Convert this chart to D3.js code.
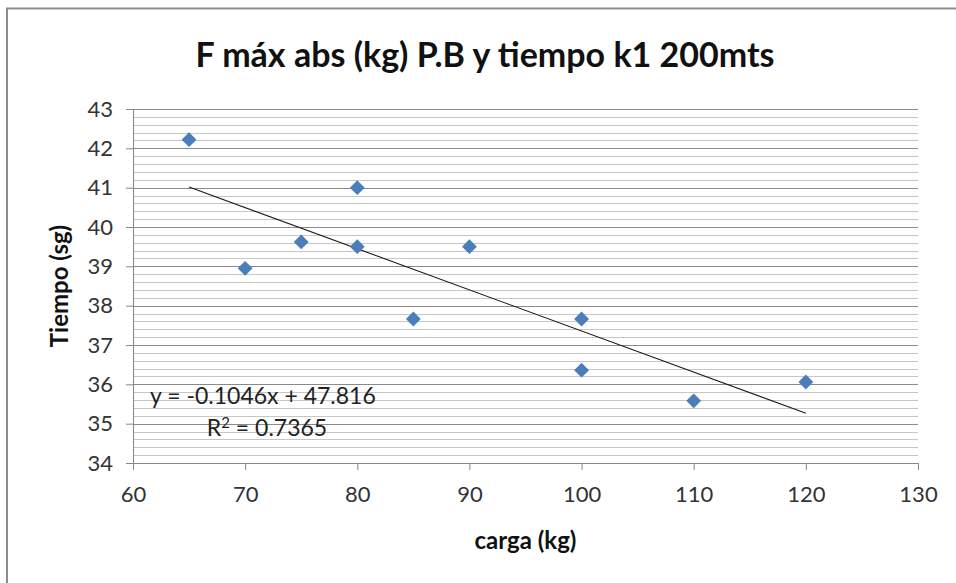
<!DOCTYPE html>
<html>
<head>
<meta charset="utf-8">
<script src="https://cdn.jsdelivr.net/npm/d3@7"></script>
<style>
  body { margin: 0; background: #fff; }
  svg text { font-family: Lato, "Open Sans", sans-serif; fill: #222; }
  .grid-minor line { stroke: #c6c6c6; stroke-width: 1; }
  .grid-major line { stroke: #8a8a8a; stroke-width: 1; }
  .axis path, .axis line { stroke: #868686; }
  .axis text { font-size: 22px; fill: #333; }
</style>
</head>
<body>
<div id="chart"></div>
<script>
'use strict';

// values
const carga = [65, 70, 75, 80, 80, 85, 90, 100, 100, 110, 120];
const tiempo = [42.22, 38.95, 39.62, 41.0, 39.5, 37.66, 39.5, 37.66, 36.36, 35.58, 36.06];
const xTicks = [60, 70, 80, 90, 100, 110, 120, 130];
const yTicks = [34, 35, 36, 37, 38, 39, 40, 41, 42, 43];
const trendSlope = -0.1046;
const trendIntercept = 47.816;
const rSquared = 0.7365;

const width = 956;
const height = 583;
const margin = {top: 109, right: 38, bottom: 120, left: 133};
const plotW = width - margin.left - margin.right;
const plotH = height - margin.top - margin.bottom;

const svg = d3.select('#chart').append('svg')
  .attr('width', width)
  .attr('height', height);

// outer chart frame (only top & left edges are inside the picture)
svg.append('rect')
  .attr('x', 7).attr('y', 8.5)
  .attr('width', width + 20).attr('height', height + 20)
  .attr('fill', 'none')
  .attr('stroke', '#8c8c8c')
  .attr('stroke-width', 2);

svg.append('text')
  .attr('x', 485)
  .attr('y', 67)
  .attr('text-anchor', 'middle')
  .style('font-size', '34px')
  .style('font-weight', 'bold')
  .style('fill', '#111')
  .text('F máx abs (kg) P.B y tiempo k1 200mts');

const g = svg.append('g')
  .attr('transform', 'translate(' + margin.left + ',' + margin.top + ')');

const x = d3.scaleLinear().domain([60, 130]).range([0, plotW]);
const y = d3.scaleLinear().domain([34, 43]).range([plotH, 0]);

// minor gridlines every 0.2
const minorTicks = d3.range(34, 43.001, 0.2).filter(v => Math.abs(v - Math.round(v)) > 0.01);
g.append('g')
  .attr('class', 'grid-minor')
  .selectAll('line')
  .data(minorTicks)
  .join('line')
  .attr('x1', 0).attr('x2', plotW)
  .attr('y1', d => Math.round(y(d)) + 0.5)
  .attr('y2', d => Math.round(y(d)) + 0.5);

g.append('g')
  .attr('class', 'grid-major')
  .selectAll('line')
  .data(yTicks.slice(1))
  .join('line')
  .attr('x1', 0).attr('x2', plotW)
  .attr('y1', d => Math.round(y(d)) + 0.5)
  .attr('y2', d => Math.round(y(d)) + 0.5);

const xAxis = d3.axisBottom(x).tickValues(xTicks).tickSize(7).tickPadding(16);
const yAxis = d3.axisLeft(y).tickValues(yTicks).tickSize(7).tickPadding(13);

g.append('g')
  .attr('class', 'axis')
  .attr('transform', 'translate(0,' + plotH + ')')
  .call(xAxis)
  .call(s => s.select('.domain').attr('d', 'M0,0.5H' + plotW));

g.append('g')
  .attr('class', 'axis')
  .call(yAxis)
  .call(s => s.select('.domain').attr('d', 'M0.5,0V' + plotH));

// trendline
const trendX = d3.extent(carga);
g.append('line')
  .attr('x1', x(trendX[0]))
  .attr('y1', y(trendSlope * trendX[0] + trendIntercept))
  .attr('x2', x(trendX[1]))
  .attr('y2', y(trendSlope * trendX[1] + trendIntercept))
  .attr('stroke', '#1a1a1a')
  .attr('stroke-width', 1.1);

// diamond markers
const diamond = d3.symbol().type(d3.symbolSquare).size(110);
g.selectAll('.pt')
  .data(carga.map((c, i) => [c, tiempo[i]]))
  .join('path')
  .attr('class', 'pt')
  .attr('d', diamond)
  .attr('transform', d => 'translate(' + x(d[0]) + ',' + y(d[1]) + ') rotate(45)')
  .attr('fill', '#4a7ebb');

// regression label
const eq = 'y = ' + trendSlope + 'x + ' + trendIntercept;
g.append('text')
  .attr('x', 150 - margin.left)
  .attr('y', 404 - margin.top)
  .style('font-size', '23px')
  .text(eq);
const r2 = g.append('text')
  .attr('x', 267 - margin.left)
  .attr('y', 436 - margin.top)
  .attr('text-anchor', 'middle')
  .style('font-size', '23px');
r2.append('tspan').text('R');
r2.append('tspan').attr('dy', -8).style('font-size', '15px').text('2');
r2.append('tspan').attr('dy', 8).text(' = ' + rSquared);

// axis titles
svg.append('text')
  .attr('x', margin.left + plotW / 2)
  .attr('y', 549)
  .attr('text-anchor', 'middle')
  .style('font-size', '24px')
  .style('font-weight', 'bold')
  .style('fill', '#111')
  .text('carga (kg)');

svg.append('text')
  .attr('transform', 'translate(68,' + (margin.top + plotH / 2) + ') rotate(-90)')
  .attr('text-anchor', 'middle')
  .style('font-size', '24px')
  .style('font-weight', 'bold')
  .style('fill', '#111')
  .text('Tiempo (sg)');
</script>
</body>
</html>
